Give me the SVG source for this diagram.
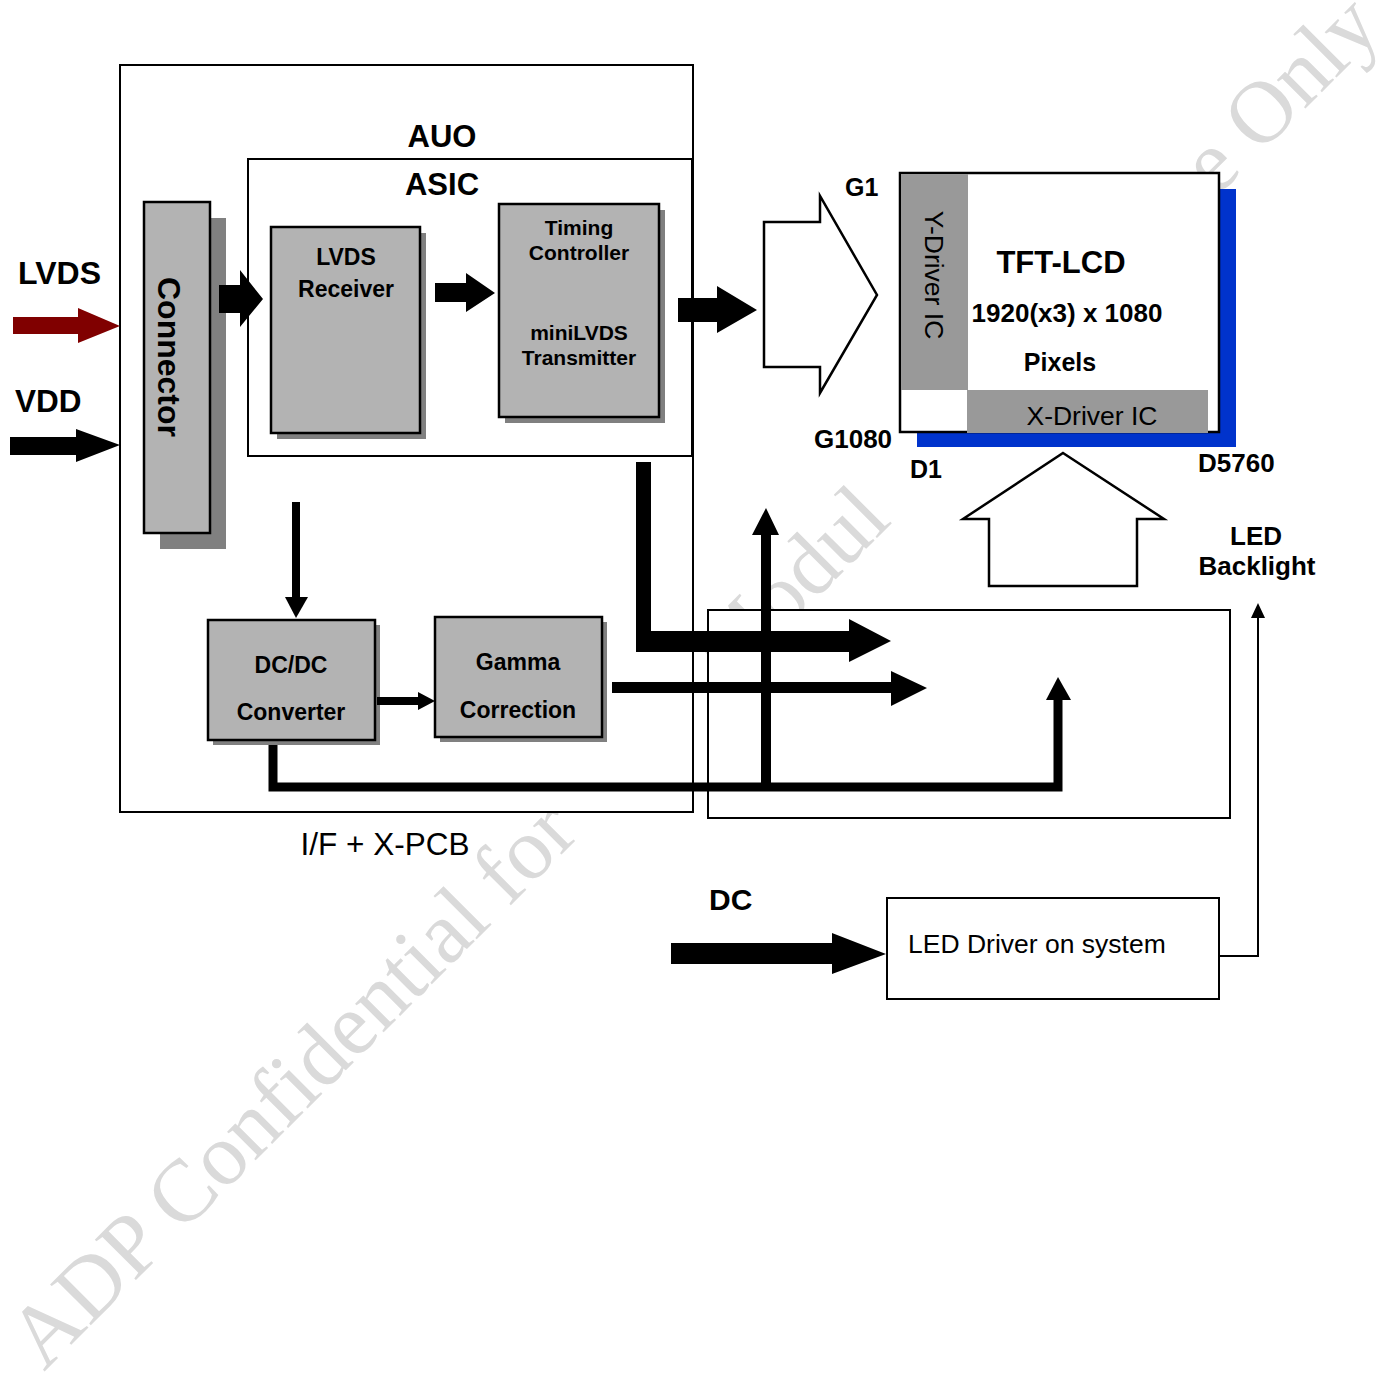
<svg xmlns="http://www.w3.org/2000/svg" width="1388" height="1382" viewBox="0 0 1388 1382">
<style>
.box{fill:#fff;stroke:#000;stroke-width:2}
.gbox{fill:#b3b3b3;stroke:#000;stroke-width:2.5}
.sh{fill:#808080}
.b{font-family:"Liberation Sans",Arial,sans-serif;font-weight:bold;fill:#000}
.r{font-family:"Liberation Sans",Arial,sans-serif;fill:#000}
.m{text-anchor:middle}
.wm{font-family:"Liberation Serif","Times New Roman",serif;font-size:88px;fill:#dadada}
.blk{fill:#000;stroke:none}
.hol{fill:#fff;stroke:#000;stroke-width:2.5}
</style>
<rect width="1388" height="1382" fill="#fff"/>
<g id="watermark">
<text class="wm" font-size="92" transform="translate(44,1372) rotate(-45)">ADP Confidential for</text>
<text class="wm" transform="translate(727,688) rotate(-45)">Modul</text>
<text class="wm" transform="translate(1216,198) rotate(-45)">e Only</text>
</g>
<g id="if-xpcb">
<rect class="box" x="120" y="65" width="573" height="747"/>
<text class="b m" x="442" y="147" font-size="31">AUO</text>
<text class="r m" x="385" y="855" font-size="31.5">I/F + X-PCB</text>
</g>
<g id="asic">
<rect class="box" x="248" y="159" width="444" height="297"/>
<text class="b m" x="442" y="195" font-size="31">ASIC</text>
</g>
<g id="xpcb-right">
<rect class="box" x="708" y="610" width="522" height="208"/>
</g>
<g id="connector">
<rect class="sh" x="160" y="218" width="66" height="331"/>
<rect class="gbox" x="144" y="202" width="66" height="331"/>
<text class="b m" font-size="32" transform="translate(169,357) rotate(90)" dy="0.35em">Connector</text>
</g>
<g id="lvds-receiver">
<rect class="sh" x="277" y="233" width="149" height="206"/>
<rect class="gbox" x="271" y="227" width="149" height="206"/>
<text class="b m" x="346" y="265" font-size="23">LVDS</text>
<text class="b m" x="346" y="297" font-size="23">Receiver</text>
</g>
<g id="timing-controller">
<rect class="sh" x="505" y="210" width="160" height="213"/>
<rect class="gbox" x="499" y="204" width="160" height="213"/>
<text class="b m" x="579" y="235" font-size="21">Timing</text>
<text class="b m" x="579" y="260" font-size="21">Controller</text>
<text class="b m" x="579" y="340" font-size="21">miniLVDS</text>
<text class="b m" x="579" y="365" font-size="21">Transmitter</text>
</g>
<g id="dcdc">
<rect class="sh" x="213" y="625" width="167" height="120"/>
<rect class="gbox" x="208" y="620" width="167" height="120"/>
<text class="b m" x="291" y="673" font-size="23">DC/DC</text>
<text class="b m" x="291" y="720" font-size="23">Converter</text>
</g>
<g id="gamma">
<rect class="sh" x="440" y="622" width="167" height="120"/>
<rect class="gbox" x="435" y="617" width="167" height="120"/>
<text class="b m" x="518" y="670" font-size="23">Gamma</text>
<text class="b m" x="518" y="718" font-size="23">Correction</text>
</g>
<g id="gate-bus">
<polygon class="hol" points="764,222 820,222 820,196 877,295 820,393 820,367 764,367"/>
<text class="b" x="845" y="196" font-size="25">G1</text>
<text class="b" x="814" y="448" font-size="26">G1080</text>
</g>
<g id="tft-lcd">
<rect x="917" y="189" width="319" height="258" fill="#0033cc"/>
<rect x="900" y="173" width="319" height="259" fill="#fff" stroke="#000" stroke-width="2.5"/>
<rect x="901" y="174" width="67" height="216" fill="#999"/>
<rect x="967" y="390" width="241" height="43" fill="#999"/>
<text class="r m" font-size="26.5" transform="translate(934,275) rotate(90)" dy="0.35em">Y-Driver IC</text>
<text class="r m" x="1092" y="425" font-size="26.5">X-Driver IC</text>
<text class="b m" x="1061" y="273" font-size="31">TFT-LCD</text>
<text class="b m" x="1067" y="322" font-size="26">1920(x3) x 1080</text>
<text class="b m" x="1060" y="371" font-size="25">Pixels</text>
<text class="b" x="910" y="478" font-size="25">D1</text>
<text class="b" x="1198" y="472" font-size="26">D5760</text>
</g>
<g id="led-backlight">
<polygon class="hol" points="1063,453 1164,519 1137,519 1137,586 989,586 989,519 963,519"/>
<text class="b m" x="1256" y="545" font-size="26">LED</text>
<text class="b m" x="1257" y="575" font-size="26">Backlight</text>
</g>
<g id="led-driver">
<rect class="box" x="887" y="898" width="332" height="101"/>
<text class="r" x="908" y="953" font-size="26.5">LED Driver on system</text>
</g>
<g id="labels">
<text class="b" x="18" y="284" font-size="32">LVDS</text>
<text class="b" x="15" y="412" font-size="31.5">VDD</text>
<text class="b" x="709" y="910" font-size="30">DC</text>
</g>
<g id="connectors">
<polygon fill="#800000" points="13,317 78,317 78,308 120,326 78,343 78,334 13,334"/>
<polygon class="blk" points="10,437 76,437 76,429 120,445 76,462 76,455 10,455"/>
<polygon class="blk" points="219,285 240,285 240,270 263,299 240,327 240,313 219,313"/>
<polygon class="blk" points="435,283 466,283 466,273 495,293 466,312 466,302 435,302"/>
<polygon class="blk" points="678,298 717,298 717,286 757,310 717,333 717,322 678,322"/>
<rect class="blk" x="292" y="502" width="8" height="96"/>
<polygon class="blk" points="285,597 308,597 296,618"/>
<polygon class="blk" points="377,697 418,697 418,692 435,701 418,710 418,705 377,705"/>
<polygon class="blk" points="636,462 651,462 651,631 849,631 849,619 891,641 849,662 849,652 636,652"/>
<polygon class="blk" points="612,682 891,682 891,671 927,688 891,706 891,693 612,693"/>
<polygon class="blk" points="761,790 761,535 752,535 766,508 779,535 771,535 771,790"/>
<polyline points="273,745 273,787 1058,787 1058,698" fill="none" stroke="#000" stroke-width="9"/>
<polygon class="blk" points="1046,700 1058,677 1071,700"/>
<polyline points="1219,956 1258,956 1258,616" fill="none" stroke="#000" stroke-width="2"/>
<polygon class="blk" points="1251,618 1258,603 1265,618"/>
<polygon class="blk" points="671,943 832,943 832,933 886,954 832,974 832,964 671,964"/>
</g>
</svg>
